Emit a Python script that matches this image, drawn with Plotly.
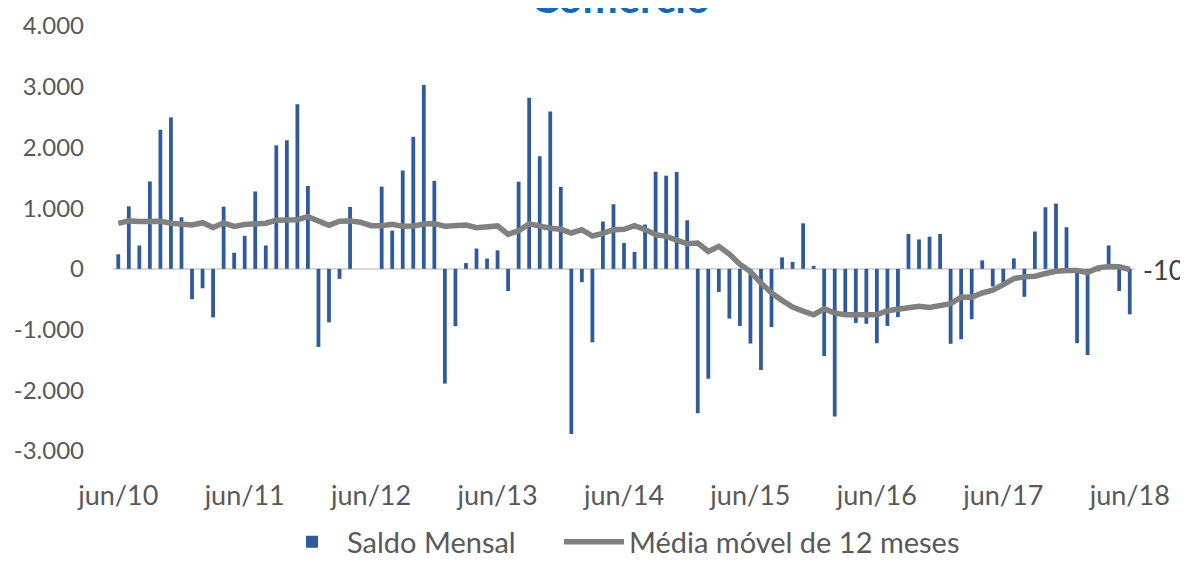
import plotly.graph_objects as go

meses_pt = ['jan', 'fev', 'mar', 'abr', 'mai', 'jun', 'jul', 'ago', 'set', 'out', 'nov', 'dez']

# jun/10 .. jun/18, one label per month
meses = []
for ano in range(10, 19):
    for m in meses_pt:
        meses.append(f'{m}/{ano}')
meses = meses[5:5 + 97]

saldo_mensal = [
    240, 1030, 385, 1440, 2290, 2495, 850,
    -500, -320, -800, 1025, 265, 545, 1275, 385, 2035, 2120, 2710, 1365,
    -1285, -880, -165, 1020, 0, 0, 1355, 630, 1620, 2175, 3030, 1450,
    -1890, -945, 95, 335, 170, 305, -365, 1435, 2820, 1855, 2590, 1350,
    -2720, -220, -1210, 780, 1065, 425, 280, 730, 1600, 1535, 1595, 800,
    -2380, -1810, -380, -820, -940, -1230, -1665, -960, 190, 115, 750, 50,
    -1435, -2430, -780, -890, -905, -1225, -940, -795, 575, 485, 530, 575,
    -1235, -1160, -830, 140, -290, -255, 172, -460, 615, 1015, 1075, 685,
    -1225, -1420, -40, 385, -365, -750,
]

media_movel = [
    750, 790, 780, 775, 785, 752, 735,
    723, 760, 680, 755, 700, 730, 750, 752, 800, 795, 810, 860,
    785, 718, 785, 790, 767, 712, 712, 735, 700, 707, 740, 745,
    701, 701, 723, 679, 690, 707, 568, 629, 740, 701, 668, 651,
    591, 646, 541, 585, 646, 651, 712, 646, 563, 536, 464, 414,
    425, 287, 370, 243, 75, -45, -235, -397, -519, -629, -695, -756,
    -657, -729, -756, -762, -762, -756, -690, -673, -646, -618, -635, -596,
    -574, -464, -469, -397, -353, -259, -160, -132, -121, -77, -39, -28,
    -28, -61, 17, 39, 33, -10,
]

y_ticks = [-3000, -2000, -1000, 0, 1000, 2000, 3000, 4000]
y_tick_text = ['-3.000', '-2.000', '-1.000', '0', '1.000', '2.000', '3.000', '4.000']

FONT = 'Lato'
TEXT_COLOR = '#595959'

fig = go.Figure()

fig.add_trace(go.Bar(
    x=meses,
    y=saldo_mensal,
    name='Saldo Mensal',
    marker=dict(color='#2F5B9B', line=dict(width=0)),
    width=0.36,
    legend='legend',
))

fig.add_trace(go.Scatter(
    x=meses,
    y=media_movel,
    name='Média móvel de 12 meses',
    mode='lines',
    line=dict(color='#808080', width=5.5),
    legend='legend2',
))

fig.add_annotation(
    x=meses[-1], y=media_movel[-1],
    text=f'{media_movel[-1]}',
    showarrow=False,
    xanchor='left', yanchor='middle',
    xshift=11,
    font=dict(family=FONT, size=27, color='#404040'),
)

fig.add_annotation(
    x=0.5, y=1, xref='paper', yref='paper',
    text='<b>Comércio</b>',
    showarrow=False,
    xanchor='center', yanchor='bottom',
    xshift=-4, yshift=2,
    font=dict(family=FONT, size=42, color='#0E6AB5'),
)

legend_style = dict(
    orientation='h',
    xanchor='left',
    y=-0.2141, yanchor='middle',
    font=dict(family=FONT, size=29, color=TEXT_COLOR),
    itemwidth=60,
    bgcolor='rgba(0,0,0,0)',
)

# the page body has an 8px margin, so the figure is 8px smaller each way
fig.update_layout(
    width=1180,
    height=553,
    margin=dict(l=105, r=53, t=18, b=110, autoexpand=False),
    paper_bgcolor='white',
    plot_bgcolor='white',
    font=dict(family=FONT, size=25, color=TEXT_COLOR),
    bargap=0.6,
    xaxis=dict(
        type='category',
        tickvals=meses[::12],
        ticktext=meses[::12],
        showgrid=False,
        showline=False,
        zeroline=False,
        ticks='',
        automargin=False,
        ticklabelstandoff=26,
        tickfont=dict(size=27, color=TEXT_COLOR),
        range=[-0.5, len(meses) - 0.5],
    ),
    yaxis=dict(
        range=[-3000, 4000],
        tickvals=y_ticks,
        ticktext=y_tick_text,
        showgrid=False,
        zeroline=True,
        zerolinecolor='#D9D9D9',
        zerolinewidth=1.5,
        showline=False,
        ticks='',
        automargin=False,
        ticklabelstandoff=28,
        tickfont=dict(size=24, color=TEXT_COLOR),
    ),
    legend=dict(x=0.1605, **legend_style),
    legend2=dict(x=0.4364, **legend_style),
    showlegend=True,
)

fig.write_html('out.html')
